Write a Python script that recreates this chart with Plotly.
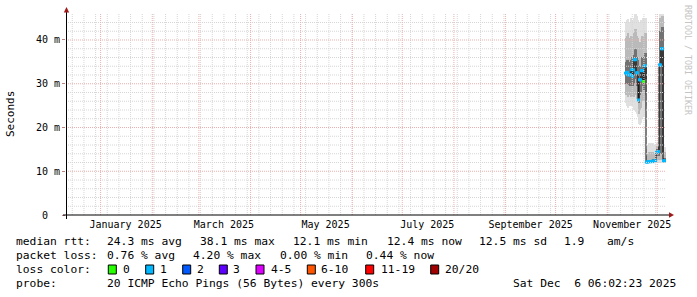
import numpy as np
import pandas as pd
import plotly.graph_objects as go

# ---------------- data ----------------
RANGE_START = "2024-12-11 06:02:23"
RANGE_END = "2025-12-06 06:02:23"

COL_START = "2025-11-11 23:00"   # first consolidated column
COL_STEP_MIN = 864               # minutes per consolidated column

median = [32.4, 32.6, 32.6, 32.0, 32.0, 32.1, 33.2, 31.7, 33.2, 35.5,
          35.5, 32.5, 32.5, 26.3, 30.9, 30.9, 33.0, 33.0, 30.5, 34.1,
          34.1, 12.1, 12.1, 12.2, 12.2, 12.2, 12.2, 12.3, 12.3, 12.2,
          12.4, 14.4, 14.4, 14.5, 34.3, 34.3, 38.0, 38.0, 12.4, 12.4]
loss = [1, 1, 1, 1, 1, 1, 1, 1, 1, 1,
        1, 1, 1, 1, 1, 1, 1, 1, 0, 1,
        1, 1, 1, 1, 1, 1, 1, 1, 1, 1,
        1, 1, 1, 1, 1, 1, 1, 1, 1, 1]
smoke_min = [25.5, 25.0, 24.5, 25.0, 25.5, 25.0, 25.5, 25.0, 24.0, 24.5,
             23.5, 23.0, 22.5, 20.8, 20.5, 21.0, 22.0, 23.0, 22.5, 24.0,
             25.0, 11.8, 11.8, 11.8, 11.8, 11.8, 11.8, 11.8, 11.8, 11.8,
             11.9, 12.0, 12.0, 12.0, 12.0, 12.0, 12.0, 12.0, 12.0, 12.0]
smoke_p10 = [27.5, 27.5, 27.0, 27.5, 27.5, 27.0, 28.0, 27.0, 27.0, 28.0,
             27.5, 26.5, 26.0, 23.0, 24.0, 24.5, 26.0, 26.5, 26.0, 27.5,
             28.0, 11.9, 11.9, 11.9, 11.9, 11.9, 11.9, 12.0, 12.0, 11.9,
             12.0, 12.5, 12.5, 12.5, 12.5, 12.5, 12.5, 12.5, 12.1, 12.1]
smoke_q1 = [30.0, 30.2, 30.0, 29.8, 29.5, 29.5, 30.5, 29.5, 30.0, 31.5,
            31.0, 29.5, 29.5, 25.5, 27.5, 28.0, 29.5, 30.0, 28.5, 31.0,
            31.0, 12.0, 12.0, 12.0, 12.0, 12.0, 12.0, 12.1, 12.1, 12.0,
            12.2, 13.5, 13.5, 13.5, 14.0, 14.0, 14.5, 14.5, 12.2, 12.2]
smoke_q3 = [35.0, 35.5, 35.5, 35.0, 35.0, 35.5, 36.0, 35.0, 36.5, 38.0,
            38.0, 36.0, 35.5, 32.0, 34.0, 34.0, 36.0, 36.0, 34.5, 37.0,
            37.0, 12.4, 12.4, 12.6, 12.5, 12.6, 12.5, 12.7, 12.6, 12.5,
            12.8, 15.0, 15.0, 15.5, 42.0, 42.0, 43.0, 43.0, 13.0, 13.0]
smoke_p90 = [40.5, 41.0, 41.5, 40.5, 40.0, 41.0, 41.0, 40.5, 41.5, 42.5,
             42.5, 41.0, 40.5, 38.5, 39.5, 39.5, 41.0, 41.0, 40.0, 41.5,
             41.5, 13.5, 14.0, 14.5, 14.0, 14.5, 14.0, 14.5, 14.0, 13.5,
             14.0, 15.8, 15.8, 16.0, 45.0, 45.0, 45.5, 45.5, 14.5, 14.5]
smoke_max = [44.0, 44.5, 44.8, 44.0, 44.2, 45.0, 44.5, 44.0, 45.0, 46.0,
             46.0, 45.5, 44.5, 44.0, 44.0, 44.5, 44.5, 45.0, 45.0, 45.0,
             45.0, 15.0, 16.0, 16.5, 16.3, 16.5, 16.0, 16.5, 16.0, 15.5,
             16.0, 16.5, 16.5, 16.8, 46.0, 46.0, 46.0, 46.0, 15.5, 15.5]

y_tick_vals = [0, 10, 20, 30, 40]
y_tick_text = ["0\u00a0\u00a0", "10 m", "20 m", "30 m", "40 m"]

loss_labels = ["0", "1", "2", "3", "4-5", "6-10", "11-19", "20/20"]
loss_colors = ["#26ff00", "#00b8ff", "#0059ff", "#5e00ff", "#dd00ff",
               "#ff5500", "#ff0000", "#a10000"]

rtt_stats = ["24.3 ms avg", "38.1 ms max", "12.1 ms min", "12.4 ms now",
             "12.5 ms sd", "1.9", "am/s"]
loss_stats = ["0.76 % avg", "4.20 % max", "0.00 % min", "0.44 % now"]
probe_text = "20 ICMP Echo Pings (56 Bytes) every 300s"
stamp_text = "Sat Dec\u00a0\u00a06 06:02:23 2025"

# ---------------- layout helpers ----------------
W, H = 697, 297
L, R, T, B = 66, 666, 14, 215
Y_MAX = 45.94


def PX(p):
    return (p - L) / (R - L)


def PY(p):
    return (B - p) / (B - T)


def loss_color(n):
    if n <= 3:
        return loss_colors[n]
    if n <= 5:
        return loss_colors[4]
    if n <= 10:
        return loss_colors[5]
    if n <= 19:
        return loss_colors[6]
    return loss_colors[7]


times = pd.date_range(COL_START, periods=len(median), freq=f"{COL_STEP_MIN}min")
col_w = COL_STEP_MIN * 60 * 1000

fig = go.Figure()

bands = [(smoke_min, smoke_max, "#e0e0e0"),
         (smoke_p10, smoke_p90, "#bababa"),
         (smoke_q1, smoke_q3, "#727272")]
for lo, hi, c in bands:
    fig.add_trace(go.Bar(
        x=times, base=lo, y=[h - l for l, h in zip(lo, hi)],
        width=[col_w] * len(lo), marker=dict(color=c, line=dict(width=0)),
        hoverinfo="skip", showlegend=False))

fig.add_trace(go.Scatter(x=times, y=median, mode="lines",
                         line=dict(color="#000000", width=1, shape="hvh"),
                         hoverinfo="skip", showlegend=False))
fig.add_trace(go.Scatter(x=times, y=median, mode="markers",
                         marker=dict(symbol="square", size=3,
                                     color=[loss_color(n) for n in loss],
                                     line=dict(width=0)),
                         hoverinfo="skip", showlegend=False))

MINOR_C = "#d6d6d6"
MAJOR_C = "#ebb0b0"
shapes = []
# vertical grid: weekly (minor) and monthly (major)
for d in pd.date_range("2024-12-15", RANGE_END, freq="7D"):
    shapes.append(dict(type="line", xref="x", yref="paper", x0=d, x1=d, y0=0, y1=1,
                       line=dict(color=MINOR_C, width=1, dash="1px,1px"), layer="above"))
for v in np.arange(2, Y_MAX, 2):
    if v % 10:
        shapes.append(dict(type="line", xref="paper", yref="y", x0=0, x1=1, y0=v, y1=v,
                           line=dict(color=MINOR_C, width=1, dash="1px,1px"), layer="above"))
for d in pd.date_range("2025-01-01", RANGE_END, freq="MS"):
    shapes.append(dict(type="line", xref="x", yref="paper", x0=d, x1=d, y0=0, y1=1,
                       line=dict(color=MAJOR_C, width=1, dash="1px,1px"), layer="above"))
for v in y_tick_vals[1:]:
    shapes.append(dict(type="line", xref="paper", yref="y", x0=0, x1=1, y0=v, y1=v,
                       line=dict(color=MAJOR_C, width=1, dash="1px,1px"), layer="above"))

# axes with arrows
shapes.append(dict(type="line", xref="paper", yref="paper", x0=PX(63), x1=PX(670),
                   y0=PY(215), y1=PY(215), line=dict(color="#000000", width=1), layer="above"))
shapes.append(dict(type="line", xref="paper", yref="paper", x0=PX(66.5), x1=PX(66.5),
                   y0=PY(219), y1=PY(11), line=dict(color="#000000", width=1), layer="above"))
shapes.append(dict(type="path", xref="paper", yref="paper",
                   path=f"M {PX(674)},{PY(215)} L {PX(669)},{PY(212.3)} L {PX(669)},{PY(217.7)} Z",
                   fillcolor="#9e1a1a", line=dict(width=0), layer="above"))
shapes.append(dict(type="path", xref="paper", yref="paper",
                   path=f"M {PX(66.5)},{PY(7)} L {PX(63.8)},{PY(12.5)} L {PX(69.2)},{PY(12.5)} Z",
                   fillcolor="#9e1a1a", line=dict(width=0), layer="above"))

MONO = "DejaVu Sans Mono"
LEG_FS = 11.3
annotations = []


def text(s, x, y, size=LEG_FS, color="#000000", anchor="left", angle=0):
    annotations.append(dict(text=s, xref="paper", yref="paper", x=PX(x), y=PY(y),
                            xanchor=anchor, yanchor="middle", showarrow=False,
                            textangle=angle, borderpad=0, borderwidth=0,
                            font=dict(family=MONO, size=size, color=color)))


text("Seconds", 11, 114, size=11, anchor="center", angle=-90)
text("RRDTOOL / TOBI OETIKER", 688, 60, size=8.3, color="#c4c4c4", anchor="center", angle=90)

row1_x = [107.3, 200, 293.3, 386.7, 479.3, 564, 606.7]
text("median rtt:", 16, 241.5)
for s, x in zip(rtt_stats, row1_x):
    text(s, x, 241.5)

row2_x = [107.3, 193.4, 279.5, 365.7]
text("packet loss:", 16, 255.3)
for s, x in zip(loss_stats, row2_x):
    text(s, x, 255.3)

box_x = [108.3, 145.7, 182.7, 219.3, 256, 307.3, 365.7, 430.7]
lab_x = [123.3, 160, 196.7, 233.3, 270.7, 320.7, 380.7, 445.3]
text("loss color:", 16, 269.3)
for lab, col, bx, lx in zip(loss_labels, loss_colors, box_x, lab_x):
    shapes.append(dict(type="rect", xref="paper", yref="paper",
                       x0=PX(bx), x1=PX(bx + 8), y0=PY(274), y1=PY(265),
                       fillcolor=col, line=dict(color="#000000", width=1)))
    text(lab, lx, 269.3)

text("probe:", 16, 283)
text(probe_text, 107.3, 283)
text(stamp_text, 513.3, 283)

label_months = pd.date_range("2025-01-01", periods=6, freq="2MS")
x_tick_vals = label_months + pd.Timedelta(days=15)
x_tick_text = [d.strftime("%B %Y") for d in label_months]

fig.update_layout(
    width=W, height=H, autosize=False,
    margin=dict(l=L, r=W - R, t=T, b=H - B, pad=0),
    paper_bgcolor="#ffffff", plot_bgcolor="#ffffff",
    barmode="overlay", bargap=0, showlegend=False,
    shapes=shapes, annotations=annotations,
    xaxis=dict(type="date", range=[RANGE_START, RANGE_END], showgrid=False,
               zeroline=False, showline=False, tickvals=x_tick_vals,
               ticktext=x_tick_text, ticks="", ticklabelstandoff=2,
               tickfont=dict(family=MONO, size=10, color="#000000")),
    yaxis=dict(range=[0, Y_MAX], showgrid=False, zeroline=False, showline=False,
               tickvals=y_tick_vals, ticktext=y_tick_text, ticks="outside",
               ticklen=3, tickcolor="#c08080",
               tickfont=dict(family=MONO, size=10, color="#000000")),
)

fig.write_html("out.html")
